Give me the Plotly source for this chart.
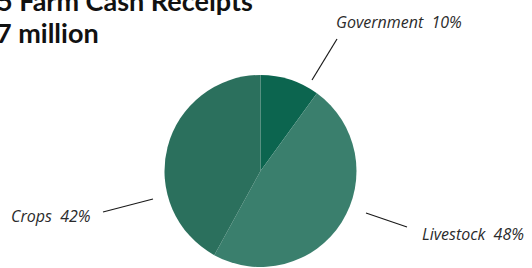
import plotly.graph_objects as go

categories = ["Government", "Livestock", "Crops"]
shares = [10, 48, 42]
slice_colors = ["#0c654f", "#3a7f6d", "#2b705d"]
title_lines = ["2015 Farm Cash Receipts", "$1,627 million"]

W, H = 532, 268

def px(x):
    return x / W

def py(y):
    return 1 - y / H

fig = go.Figure(go.Pie(
    labels=categories,
    values=shares,
    sort=False,
    direction="clockwise",
    rotation=0,
    textinfo="none",
    hoverinfo="label+percent",
    marker=dict(colors=slice_colors, line=dict(width=0)),
    domain=dict(x=[px(164), px(357)], y=[py(267), py(75)]),
    showlegend=False,
))

label_font = dict(family="Open Sans", size=16, color="#2b2b2b")
ann = []
# title (left part is cut off by the page edge as in the reference)
ann.append(dict(text="<b>" + title_lines[0] + "</b>", x=px(255), y=py(19), xref="paper", yref="paper",
                xanchor="right", yanchor="bottom", showarrow=False,
                font=dict(family="Lato", size=27, color="#111111")))
ann.append(dict(text="<b>" + title_lines[1] + "</b>", x=px(101), y=py(51), xref="paper", yref="paper",
                xanchor="right", yanchor="bottom", showarrow=False,
                font=dict(family="Lato", size=27, color="#111111")))

labels_pos = [(334, 22, "left"), (420, 234, "left"), (93, 216, "right")]
for cat, val, (x, y, anc) in zip(categories, shares, labels_pos):
    ann.append(dict(text="<i>%s  %d%%</i>" % (cat, val), x=px(x), y=py(y), xref="paper", yref="paper",
                    xanchor=anc, yanchor="middle", showarrow=False, font=label_font))

leader = [((337, 39), (312, 80)), ((366, 213), (407, 227)), ((103, 212), (153, 199))]
shapes = []
for (x0, y0), (x1, y1) in leader:
    shapes.append(dict(type="line", xref="paper", yref="paper", x0=px(x0), y0=py(y0), x1=px(x1), y1=py(y1),
                       line=dict(color="#1a1a1a", width=1.2)))

fig.update_layout(
    width=W, height=H,
    margin=dict(l=0, r=0, t=0, b=0),
    paper_bgcolor="white", plot_bgcolor="white",
    annotations=ann, shapes=shapes,
)

fig.write_html("out.html", config={"displayModeBar": False},
               post_script="document.body.style.margin='0px';document.body.style.overflow='hidden';")
